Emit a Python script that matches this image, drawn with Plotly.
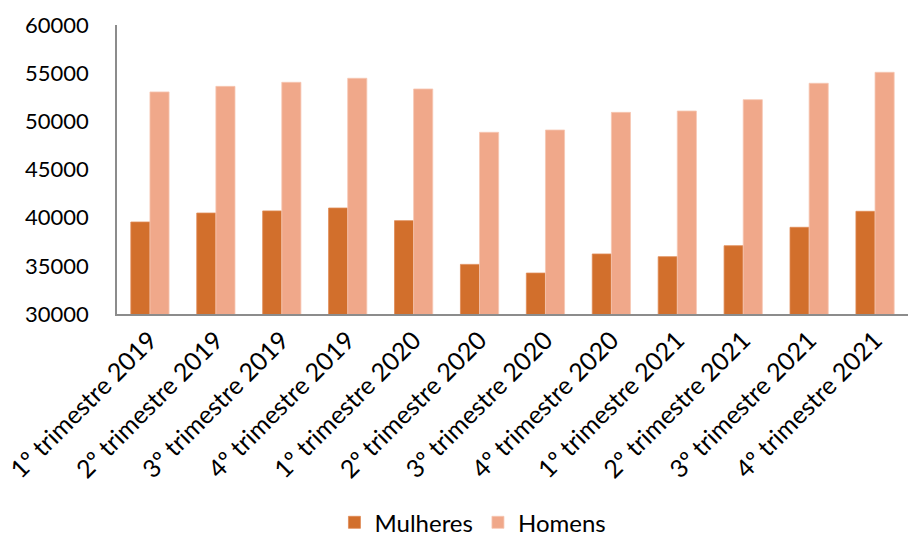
import plotly.graph_objects as go

# Quarterly values by sex
trimestres = [
    "1º trimestre 2019", "2º trimestre 2019", "3º trimestre 2019", "4º trimestre 2019",
    "1º trimestre 2020", "2º trimestre 2020", "3º trimestre 2020", "4º trimestre 2020",
    "1º trimestre 2021", "2º trimestre 2021", "3º trimestre 2021", "4º trimestre 2021",
]
mulheres = [39550, 40480, 40700, 41000, 39690, 35150, 34250, 36230, 35950, 37090, 39000, 40660]
homens = [53050, 53630, 54050, 54470, 53360, 48860, 49100, 50930, 51070, 52250, 53950, 55090]

y_ticks = [30000, 35000, 40000, 45000, 50000, 55000, 60000]

FONT = "Lato, Carlito, Calibri, sans-serif"
AXIS_GREY = "#8c8c8c"

fig = go.Figure()
fig.add_trace(go.Bar(
    name="Mulheres", x=trimestres, y=mulheres,
    marker=dict(color="#D26F2C", line=dict(color="#E08A55", width=0.8)),
))
fig.add_trace(go.Bar(
    name="Homens", x=trimestres, y=homens,
    marker=dict(color="#F0A88A", line=dict(color="#F6C7B3", width=0.8)),
))

fig.update_layout(
    width=909, height=540,
    margin=dict(l=117, r=1, t=25, b=226),
    paper_bgcolor="white", plot_bgcolor="white",
    barmode="group", bargap=0.42, bargroupgap=0,
    font=dict(family=FONT, size=22, color="#000000"),
    showlegend=True,
    legend=dict(
        orientation="h", x=0.45, xanchor="center",
        yref="container", y=0.032, yanchor="middle",
        font=dict(family=FONT, size=24, color="#000000"),
        itemwidth=30,
    ),
)
fig.update_xaxes(
    tickangle=-45, showline=True, linecolor=AXIS_GREY, linewidth=1.5,
    showgrid=False, ticks="", tickfont=dict(family=FONT, size=25),
)
fig.update_yaxes(
    range=[30000, 60000], tickvals=y_ticks, ticktext=[str(v) for v in y_ticks],
    showline=True, linecolor=AXIS_GREY, linewidth=1.5,
    showgrid=False, zeroline=False, ticks="",
    ticklabelstandoff=22, tickfont=dict(family=FONT, size=22),
)

fig.write_html("out.html")
